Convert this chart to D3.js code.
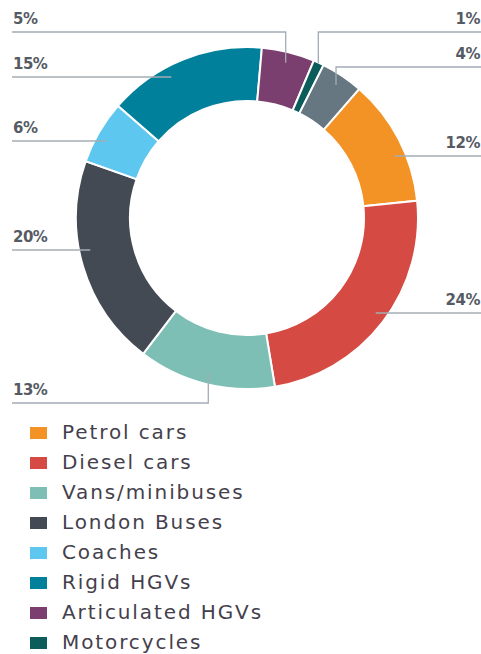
<!DOCTYPE html>
<html>
<head>
<meta charset="utf-8">
<script src="https://cdnjs.cloudflare.com/ajax/libs/d3/7.8.5/d3.min.js"></script>
<style>
  body { margin: 0; background: #fff; }
  svg { display: block; }
</style>
</head>
<body>
<svg></svg>
<script>
// vehicle types, share of emissions (%) and slice colours, clockwise from the petrol slice
const categories = ["Petrol cars", "Diesel cars", "Vans/minibuses", "London Buses", "Coaches",
                    "Rigid HGVs", "Articulated HGVs", "Motorcycles", "Taxis"];
const shares  = [12, 24, 13, 20, 6, 15, 5, 1, 4];
const colours = ["#f39325", "#d54a42", "#7dbfb5", "#434a53", "#5dc7ef",
                 "#00809a", "#7a3f6e", "#0d5c5c", "#677782"];

const svgWidth = 481, svgHeight = 654;
const cx = 247, cy = 218;
const outerR = 171, innerR = 117, labelR = 160;

// where each leader line runs: side of the page, height of the horizontal run,
// and whether it drops to the slice with an elbow
const leaders = {
  "Petrol cars":      { side: "right", level: 156 },
  "Diesel cars":      { side: "right", level: 313 },
  "Vans/minibuses":   { side: "left",  level: 403, elbow: true },
  "London Buses":     { side: "left",  level: 250 },
  "Coaches":          { side: "left",  level: 141 },
  "Rigid HGVs":       { side: "left",  level: 77 },
  "Articulated HGVs": { side: "left",  level: 32, elbow: true },
  "Motorcycles":      { side: "right", level: 32, elbow: true, reach: 170 },
  "Taxis":            { side: "right", level: 67, elbow: true }
};

const data = categories.map((c, i) => ({ name: c, value: shares[i], colour: colours[i] }));

const svg = d3.select("svg")
  .attr("width", svgWidth)
  .attr("height", svgHeight);

const start = 41 * Math.PI / 180;
const pie = d3.pie()
  .value(d => d.value)
  .sort(null)
  .startAngle(start)
  .endAngle(start + 2 * Math.PI);

const arcs = pie(data);

const arc = d3.arc().innerRadius(innerR).outerRadius(outerR);

const chart = svg.append("g")
  .attr("transform", `translate(${cx},${cy})`);

chart.selectAll("path.slice").data(arcs)
  .enter().append("path")
    .attr("class", "slice")
    .attr("d", arc)
    .attr("fill", d => d.data.colour)
    .attr("stroke", "#fff")
    .attr("stroke-width", 2)
    .attr("stroke-linejoin", "miter");

// leader lines + percentage labels
const leftX = 12, rightX = svgWidth;
const labels = svg.append("g");

arcs.forEach(a => {
  const L = leaders[a.data.name];
  let pts;
  if (L.elbow) {
    const r = L.reach || labelR;
    const p = d3.arc().innerRadius(r).outerRadius(r).centroid(a);
    const ax = cx + p[0], ay = cy + p[1];
    const edge = L.side === "left" ? leftX : rightX;
    pts = [[edge, L.level], [ax, L.level], [ax, ay]];
  } else {
    const dy = L.level - cy;
    const dx = Math.sqrt(labelR * labelR - dy * dy);
    const ax = L.side === "left" ? cx - dx : cx + dx;
    const edge = L.side === "left" ? leftX : rightX;
    pts = [[edge, L.level], [ax, L.level]];
  }
  labels.append("path")
    .attr("d", d3.line()(pts))
    .attr("fill", "none")
    .attr("stroke", "#a3acb5")
    .attr("stroke-width", 1.3);

  labels.append("text")
    .attr("x", L.side === "left" ? 13 : 480)
    .attr("y", L.level - 8)
    .attr("text-anchor", L.side === "left" ? "start" : "end")
    .attr("font-family", "DejaVu Sans, sans-serif")
    .attr("font-size", 15)
    .attr("font-weight", "bold")
    .attr("letter-spacing", -0.5)
    .attr("fill", "#565b63")
    .text(`${a.data.value}%`);
});

// legend (the last entry falls below the visible area, as in the source)
const legend = svg.append("g")
  .attr("transform", "translate(30,433)");

const rows = legend.selectAll("g").data(data)
  .enter().append("g")
    .attr("transform", (d, i) => `translate(0,${i * 30})`);

rows.append("rect")
  .attr("x", 0)
  .attr("y", -6)
  .attr("width", 17)
  .attr("height", 12)
  .attr("fill", d => d.colour);

rows.append("text")
  .attr("x", 32)
  .attr("y", 6)
  .attr("font-family", "DejaVu Sans, sans-serif")
  .attr("font-size", 20)
  .attr("letter-spacing", 1.9)
  .attr("fill", "#453f4c")
  .text(d => d.name);
</script>
</body>
</html>
